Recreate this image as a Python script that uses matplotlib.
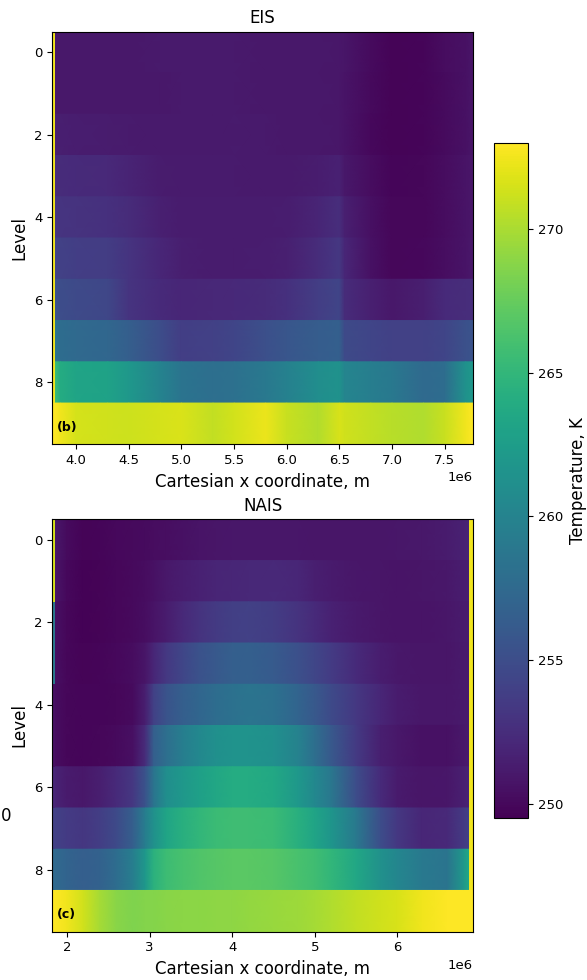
import numpy as np
import matplotlib
matplotlib.use("Agg")
import matplotlib.pyplot as plt
from matplotlib.colors import Normalize
from matplotlib.cm import ScalarMappable

levels = list(range(10))
vmin, vmax = 249.5, 273.0
cbar_ticks = [250, 255, 260, 265, 270]

# ---------------- EIS (panel b) ----------------
eis_xlim = (3.77e6, 7.77e6)
eis_edge_x = [3.77e6, 3.80e6]
eis_edge_T = [272.5, 272.5, 272.5, 272.5, 272.5, 272.5, 272.5, 272.5, 272.5, 273.0]
eis_x = np.array([3.80, 3.85, 4.0, 4.3, 4.5, 4.8, 5.0, 5.3, 5.5, 5.8, 6.0, 6.3,
                  6.50, 6.55, 6.8, 7.0, 7.3, 7.5, 7.7, 7.77]) * 1e6
eis_L0 = [251.0, 251.0, 251.0, 251.0, 251.0, 251.1, 251.1, 251.1, 251.1, 251.0, 251.0, 251.0, 250.9, 250.8, 250.2, 249.7, 249.8, 250.3, 250.6, 250.8]
eis_L1 = [251.0, 251.0, 251.0, 251.0, 251.0, 251.0, 251.1, 251.1, 251.1, 251.0, 251.0, 251.0, 250.9, 250.7, 250.1, 249.7, 249.8, 250.2, 250.6, 250.8]
eis_L2 = [251.6, 251.5, 251.4, 251.3, 251.2, 251.1, 251.1, 251.1, 251.2, 251.1, 251.0, 251.0, 250.9, 250.7, 250.0, 249.7, 249.8, 250.2, 250.6, 250.8]
eis_L3 = [252.5, 252.4, 252.3, 252.2, 251.8, 251.3, 251.2, 251.2, 251.2, 251.1, 251.1, 251.4, 251.7, 251.0, 250.3, 249.8, 249.9, 250.3, 250.7, 250.9]
eis_L4 = [253.2, 253.0, 252.9, 252.8, 252.4, 251.6, 251.3, 251.3, 251.3, 251.3, 251.4, 251.9, 252.6, 251.6, 250.5, 249.9, 249.9, 250.3, 250.7, 250.9]
eis_L5 = [254.2, 254.0, 253.8, 253.7, 253.0, 252.0, 251.5, 251.3, 251.3, 251.4, 251.6, 252.5, 253.3, 252.0, 250.6, 249.9, 250.0, 250.4, 250.7, 251.0]
eis_L6 = [255.5, 255.0, 254.8, 254.5, 253.0, 252.3, 252.0, 252.1, 252.2, 252.4, 252.8, 253.8, 254.3, 252.4, 251.6, 251.0, 251.5, 252.3, 252.5, 252.6]
eis_L7 = [258.5, 257.8, 257.5, 257.3, 256.5, 255.0, 253.8, 254.0, 254.3, 255.2, 255.8, 256.3, 256.6, 254.8, 254.3, 254.0, 254.0, 254.3, 255.3, 255.5]
eis_L8 = [265.5, 264.0, 263.2, 263.0, 262.0, 260.0, 258.5, 258.0, 258.2, 259.0, 259.7, 261.0, 261.5, 260.2, 259.5, 259.0, 257.5, 257.8, 261.5, 262.0]
eis_L9 = [273.0, 272.5, 271.5, 271.3, 271.2, 271.5, 271.7, 270.8, 271.4, 272.3, 271.0, 270.3, 271.6, 271.3, 270.8, 270.5, 270.2, 271.0, 272.5, 273.0]
eis_T = np.array([eis_L0, eis_L1, eis_L2, eis_L3, eis_L4, eis_L5, eis_L6, eis_L7, eis_L8, eis_L9])

# ---------------- NAIS (panel c) ----------------
nais_xlim = (1.82e6, 6.914e6)
nais_left_edge_x = [1.82e6, 1.855e6]
nais_left_edge_T = [271.5, 271.5, 259.0, 259.0, 250.5, 250.5, 252.0, 254.0, 257.5, 273.0]
nais_right_edge_x = [6.865e6, 6.914e6]
nais_right_edge_T = [272.5, 272.5, 272.5, 272.5, 272.5, 272.5, 272.5, 272.5, 272.5, 273.0]
nais_x = np.array([1.855, 2.0, 2.2, 2.4, 2.6, 2.8, 2.95, 3.05, 3.2, 3.4, 3.6, 3.8, 4.0,
                   4.2, 4.5, 4.8, 5.0, 5.2, 5.5, 5.8, 6.0, 6.3, 6.6, 6.8, 6.865]) * 1e6
nais_L0 = [251.0, 250.2, 249.7, 249.8, 250.0, 250.1, 250.2, 250.3, 250.4, 250.6, 250.7, 250.8, 250.9, 250.9, 250.9, 250.9, 250.8, 250.8, 250.8, 250.8, 250.9, 251.0, 251.3, 251.7, 251.8]
nais_L1 = [250.8, 250.0, 249.6, 249.7, 249.9, 250.1, 250.3, 250.6, 251.0, 251.4, 251.7, 251.9, 252.0, 252.1, 252.2, 252.0, 251.5, 251.2, 250.9, 250.8, 250.7, 250.8, 251.0, 251.4, 251.5]
nais_L2 = [250.6, 249.9, 249.6, 249.7, 249.9, 250.1, 250.4, 250.7, 251.3, 252.2, 252.9, 253.5, 253.9, 254.0, 253.7, 252.9, 252.3, 251.7, 251.1, 250.8, 250.7, 250.7, 250.9, 251.2, 251.3]
nais_L3 = [250.5, 249.9, 249.7, 249.8, 250.0, 250.3, 250.8, 252.0, 253.3, 254.4, 255.4, 256.0, 256.5, 256.6, 256.2, 255.2, 254.4, 253.6, 252.3, 251.4, 251.0, 250.8, 250.8, 251.1, 251.2]
nais_L4 = [250.3, 249.9, 249.8, 249.8, 249.9, 250.2, 251.5, 254.0, 255.5, 256.5, 257.2, 257.8, 258.3, 258.5, 258.3, 257.0, 256.0, 254.8, 253.3, 252.0, 251.3, 250.9, 250.9, 251.1, 251.2]
nais_L5 = [250.3, 249.9, 249.8, 249.9, 250.1, 250.5, 252.5, 256.5, 258.0, 259.5, 260.5, 261.2, 261.6, 261.6, 261.2, 259.8, 258.0, 256.0, 253.5, 251.5, 251.0, 250.6, 250.6, 251.0, 251.2]
nais_L6 = [251.8, 251.2, 251.0, 251.5, 252.3, 253.3, 255.5, 258.5, 261.0, 262.0, 262.8, 263.5, 264.0, 264.0, 263.6, 262.0, 260.5, 258.8, 255.0, 252.3, 251.2, 250.8, 250.9, 251.6, 251.8]
nais_L7 = [254.0, 253.6, 253.2, 253.8, 254.8, 256.5, 259.5, 261.3, 263.2, 264.3, 265.0, 265.5, 265.7, 265.7, 265.5, 264.3, 263.2, 261.8, 259.0, 255.0, 253.3, 252.0, 252.2, 253.5, 254.0]
nais_L8 = [257.5, 257.0, 256.5, 256.8, 257.8, 259.5, 262.0, 264.5, 265.6, 266.2, 266.5, 266.8, 267.0, 267.0, 266.8, 266.2, 265.8, 265.0, 263.5, 261.3, 260.3, 259.0, 258.5, 262.0, 263.5]
nais_L9 = [273.0, 272.5, 271.3, 269.8, 268.8, 268.5, 268.6, 268.6, 268.8, 268.9, 268.9, 269.0, 269.0, 269.2, 269.4, 269.6, 269.8, 270.2, 270.8, 271.3, 271.6, 272.5, 273.0, 273.0, 273.0]
nais_T = np.array([nais_L0, nais_L1, nais_L2, nais_L3, nais_L4, nais_L5, nais_L6, nais_L7, nais_L8, nais_L9])

norm = Normalize(vmin=vmin, vmax=vmax)
cmap = "viridis"
lev = np.array(levels, dtype=float)
lev_edges = np.append(lev - 0.5, lev[-1] + 0.5)


def draw_rows(ax, x, T):
    # each level drawn as its own band, shaded only along x
    ytop = lev - 0.5
    ybot = lev + 0.5
    Y = np.empty((2 * len(lev), len(x)))
    Y[0::2] = ytop[:, None]
    Y[1::2] = ybot[:, None]
    X = np.tile(x, (2 * len(lev), 1))
    C = np.repeat(T, 2, axis=0)
    ax.pcolormesh(X, Y, C, shading="gouraud", cmap=cmap, norm=norm, rasterized=True)


def draw_edge(ax, xe, Te):
    ax.pcolormesh(np.array(xe), lev_edges, np.array(Te).reshape(-1, 1),
                  shading="flat", cmap=cmap, norm=norm)


fig = plt.figure(figsize=(5.87, 9.8), dpi=100)
ax1 = fig.add_axes([0.0886, 0.5466, 0.7172, 0.4211])
ax2 = fig.add_axes([0.0886, 0.0493, 0.7172, 0.4208])
cax = fig.add_axes([0.8416, 0.1653, 0.0579, 0.6888])

draw_rows(ax1, eis_x, eis_T)
draw_edge(ax1, eis_edge_x, eis_edge_T)
ax1.set_xlim(*eis_xlim)

draw_rows(ax2, nais_x, nais_T)
draw_edge(ax2, nais_left_edge_x, nais_left_edge_T)
draw_edge(ax2, nais_right_edge_x, nais_right_edge_T)
ax2.set_xlim(*nais_xlim)

for ax, title, tag in [(ax1, "EIS", "(b)"), (ax2, "NAIS", "(c)")]:
    ax.set_ylim(9.5, -0.5)
    ax.set_yticks([0, 2, 4, 6, 8])
    ax.set_title(title, fontsize=12)
    ax.set_ylabel("Level", fontsize=12)
    ax.set_xlabel("Cartesian x coordinate, m", fontsize=12)
    ax.tick_params(labelsize=9.5)
    ax.xaxis.get_offset_text().set_fontsize(9.5)
    ax.text(0.012, 0.025, tag, transform=ax.transAxes, fontsize=9,
            fontweight="bold", ha="left", va="bottom")

cb = fig.colorbar(ScalarMappable(norm=norm, cmap=cmap), cax=cax, ticks=cbar_ticks)
cb.set_label("Temperature, K", fontsize=12)
cb.ax.tick_params(labelsize=9.5)

fig.text(0.001, 0.1673, "0", fontsize=12, ha="left", va="center")

fig.savefig("out.png", dpi=100)
